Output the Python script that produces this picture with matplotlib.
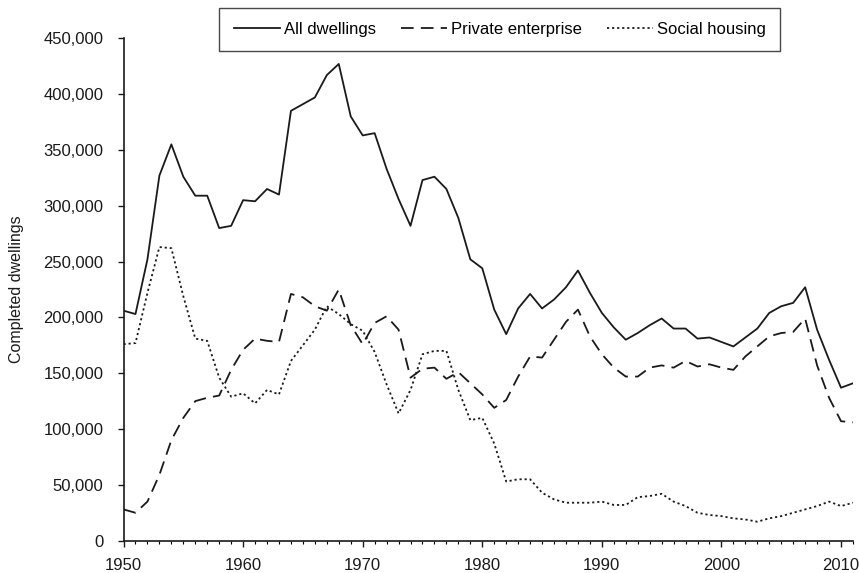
import matplotlib
matplotlib.use("Agg")
import matplotlib.pyplot as plt
from matplotlib.ticker import MultipleLocator, StrMethodFormatter

plt.rcParams["font.family"] = ["Liberation Sans", "DejaVu Sans"]

years = list(range(1950, 2012))

# completed dwellings per year (thousands)
all_dwellings = [
    206, 203, 252, 327, 355, 326, 309, 309, 280, 282,
    305, 304, 315, 310, 385, 391, 397, 417, 427, 380,
    363, 365, 333, 306, 282, 323, 326, 315, 289, 252,
    244, 207, 185, 208, 221, 208, 216, 227, 242, 222,
    204, 191, 180, 186, 193, 199, 190, 190, 181, 182,
    178, 174, 182, 190, 204, 210, 213, 227, 189, 162,
    137, 141,
]
private_enterprise = [
    28, 25, 35, 59, 90, 110, 125, 128, 130, 153,
    171, 181, 179, 178, 221, 218, 210, 206, 225, 193,
    176, 195, 201, 189, 146, 154, 155, 145, 151, 141,
    131, 119, 126, 147, 165, 164, 180, 196, 207, 183,
    167, 155, 147, 147, 155, 157, 155, 161, 156, 158,
    155, 153, 165, 174, 183, 186, 187, 199, 157, 128,
    107, 106,
]
social_housing = [
    176, 177, 222, 263, 262, 219, 181, 179, 146, 129,
    132, 123, 135, 131, 161, 175, 189, 210, 203, 194,
    188, 169, 140, 114, 135, 167, 170, 170, 135, 108,
    110, 87, 53, 55, 55, 43, 37, 34, 34, 34,
    35, 32, 32, 39, 40, 42, 35, 31, 25, 23,
    22, 20, 19, 17, 20, 22, 25, 28, 31, 35,
    31, 34,
]

series = [
    ("All dwellings", all_dwellings, "-"),
    ("Private enterprise", private_enterprise, (0, (7, 4))),
    ("Social housing", social_housing, (0, (1.2, 1.6))),
]

ink = "#1a1a1a"

fig = plt.figure(figsize=(8.59, 5.73), dpi=100)
ax = fig.add_axes([0.1438, 0.0564, 0.8492, 0.8768])

for label, values, style in series:
    ax.plot(years, [v * 1000 for v in values], color=ink,
            linestyle=style, linewidth=1.3, label=label)

ax.set_xlim(1950, 2011)
ax.set_ylim(0, 450000)
ax.xaxis.set_major_locator(MultipleLocator(10))
ax.xaxis.set_minor_locator(MultipleLocator(1))
ax.yaxis.set_major_locator(MultipleLocator(50000))
ax.yaxis.set_major_formatter(StrMethodFormatter("{x:,.0f}"))

for side in ("top", "right"):
    ax.spines[side].set_visible(False)
for side in ("left", "bottom"):
    ax.spines[side].set_linewidth(1.2)
    ax.spines[side].set_color(ink)

ax.tick_params(axis="both", which="major", direction="out", length=4.5,
               width=1.0, labelsize=12, colors=ink)
ax.tick_params(axis="x", which="minor", direction="out", length=2.5, width=0.8)
ax.tick_params(axis="x", which="major", pad=8)
ax.tick_params(axis="y", which="major", pad=10)
ax.set_ylabel("Completed dwellings", fontsize=11.5, color=ink)
ax.yaxis.set_label_coords(-0.136, 0.5)

leg = fig.legend(loc="upper center", bbox_to_anchor=(499.5 / 859, 1 - 8 / 573),
                 ncol=3, frameon=True, fancybox=False, edgecolor=ink,
                 fontsize=12, handlelength=2.8, handletextpad=0.2,
                 columnspacing=1.5, borderpad=0.85, borderaxespad=0)
leg.get_frame().set_linewidth(1.0)

fig.savefig("out.png", dpi=100)
